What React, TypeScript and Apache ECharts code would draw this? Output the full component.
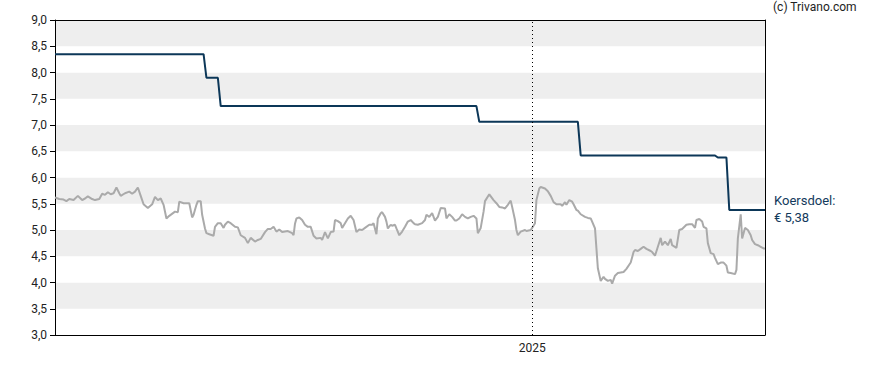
import React, { useEffect, useRef } from "react";
import * as echarts from "echarts";

// Days counted from 2 Feb 2024
const START_DATE = "2024-02-02";
const END_DAY = 497;
const YEAR_MARK = "2025-01-01";
const YEAR_LABEL = "2025";

const yTicks = [3, 3.5, 4, 4.5, 5, 5.5, 6, 6.5, 7, 7.5, 8, 8.5, 9];

const priceDays = [
  0, 3, 6, 8, 10, 13, 16, 19, 21, 23, 26, 28, 31, 33, 35, 37, 39, 41, 43, 45, 46, 49, 52, 54, 56, 58, 60, 62, 65, 68,
  70, 72, 74, 76, 78, 80, 84, 86, 87, 90, 92, 94, 96, 97, 99, 100, 102, 103, 105, 106, 108, 111, 112, 114, 116, 118,
  119, 121, 123, 126, 128, 130, 133, 135, 137, 140, 142, 144, 147, 149, 151, 153, 155, 157, 159, 161, 163, 166, 167,
  168, 169, 171, 173, 175, 177, 179, 181, 183, 186, 187, 189, 191, 193, 195, 196, 198, 200, 201, 203, 205, 207, 209,
  211, 213, 215, 217, 220, 222, 223, 225, 226, 228, 229, 231, 232, 233, 235, 236, 238, 239, 241, 243, 245, 247, 249,
  251, 252, 254, 257, 259, 260, 262, 264, 265, 266, 268, 270, 273, 274, 276, 278, 280, 281, 283, 285, 287, 289, 291,
  293, 295, 296, 298, 300, 301, 304, 307, 309, 311, 313, 315, 317, 319, 320, 322, 323, 324, 326, 329, 330, 333, 334,
  336, 337, 339, 340, 343, 345, 347, 349, 351, 354, 355, 357, 358, 360, 362, 363, 365, 366, 368, 371, 373, 375, 376,
  378, 379, 380, 382, 384, 385, 387, 389, 390, 392, 394, 396, 398, 400, 403, 405, 406, 408, 410, 412, 414, 417, 418,
  420, 422, 424, 425, 427, 429, 431, 432, 435, 437, 439, 442, 444, 446, 448, 449, 451, 453, 454, 456, 457, 459, 461,
  462, 464, 466, 468, 470, 471, 473, 476, 477, 478, 480, 481, 483, 485, 487, 488, 490, 492, 494, 496, 497,
];

const priceValues = [
  5.62, 5.59, 5.58, 5.55, 5.59, 5.57, 5.65, 5.57, 5.6, 5.64, 5.59, 5.57, 5.59, 5.69, 5.67, 5.72, 5.68, 5.7, 5.81, 5.7,
  5.65, 5.7, 5.73, 5.69, 5.73, 5.81, 5.65, 5.49, 5.42, 5.49, 5.63, 5.57, 5.6, 5.48, 5.22, 5.27, 5.35, 5.34, 5.54, 5.51,
  5.51, 5.51, 5.24, 5.29, 5.48, 5.55, 5.55, 5.29, 5.03, 4.94, 4.92, 4.89, 5.06, 5.13, 5.13, 5.04, 5.1, 5.16, 5.13,
  5.06, 5.05, 4.9, 4.85, 4.75, 4.85, 4.78, 4.81, 4.83, 4.96, 5.02, 5.02, 5.06, 4.97, 5.01, 4.96, 4.97, 4.98, 4.94,
  4.9, 5.12, 5.22, 5.24, 5.19, 5.1, 5.06, 5.06, 4.89, 4.84, 4.85, 4.81, 4.96, 4.84, 4.96, 4.97, 5.19, 5.17, 5.13,
  5.04, 5.13, 5.22, 5.27, 5.19, 4.96, 5.01, 5.0, 5.04, 5.1, 5.1, 5.13, 4.92, 5.22, 5.32, 5.34, 5.25, 5.16, 5.03, 5.1,
  5.08, 5.1, 5.03, 4.9, 4.97, 5.06, 5.16, 5.19, 5.13, 5.11, 5.1, 5.13, 5.19, 5.29, 5.25, 5.32, 5.25, 5.18, 5.25, 5.42,
  5.41, 5.22, 5.3, 5.25, 5.18, 5.18, 5.22, 5.3, 5.25, 5.22, 5.25, 5.27, 5.22, 4.94, 5.04, 5.35, 5.55, 5.68, 5.57,
  5.51, 5.44, 5.43, 5.41, 5.48, 5.56, 5.44, 5.19, 5.0, 4.9, 4.97, 5.0, 4.98, 5.0, 5.04, 5.13, 5.57, 5.79, 5.82, 5.79,
  5.74, 5.65, 5.53, 5.49, 5.49, 5.46, 5.53, 5.48, 5.57, 5.54, 5.49, 5.38, 5.37, 5.3, 5.25, 5.23, 5.22, 5.16, 5.03,
  4.65, 4.27, 4.03, 4.11, 4.07, 4.03, 4.05, 3.98, 4.13, 4.18, 4.19, 4.2, 4.26, 4.38, 4.58, 4.62, 4.6, 4.64, 4.68,
  4.64, 4.6, 4.58, 4.51, 4.68, 4.85, 4.71, 4.78, 4.71, 4.83, 4.71, 4.66, 5.0, 5.02, 5.1, 5.11, 5.11, 5.04, 5.19,
  5.21, 5.16, 5.06, 5.03, 4.75, 4.56, 4.54, 4.47, 4.35, 4.38, 4.38, 4.32, 4.19, 4.18, 4.16, 4.24, 4.84, 5.3, 4.84,
  5.04, 5.0, 4.9, 4.81, 4.73, 4.71, 4.68, 4.65, 4.65,
];

// Koersdoel (price target): start day of each level and its value
const targetStartDays = [0, 106, 116, 297, 368, 464, 472];
const targetValues = [8.35, 7.9, 7.36, 7.06, 6.42, 6.38, 5.38];
const TARGET_LABEL = "Koersdoel:";
const TARGET_VALUE_LABEL = "€ 5,38";
const COPYRIGHT = "(c) Trivano.com";

const DAY_MS = 86400000;
const startMs = Date.parse(START_DATE + "T00:00:00Z");
const toMs = (d: number) => startMs + d * DAY_MS;

export default function App() {
  const ref = useRef<HTMLDivElement>(null);

  useEffect(() => {
    if (!ref.current) return;
    const chart = echarts.init(ref.current, undefined, { renderer: "svg" });

    const priceData = priceDays.map((d, i) => [toMs(d), priceValues[i]]);
    const targetData: number[][] = [];
    targetStartDays.forEach((s, i) => {
      const end = i < targetStartDays.length - 1 ? targetStartDays[i + 1] - 2 : END_DAY;
      targetData.push([toMs(s), targetValues[i]]);
      targetData.push([toMs(end), targetValues[i]]);
    });

    const fmt = (v: number) => v.toFixed(1).replace(".", ",");
    const font = "Roboto, 'Liberation Sans', sans-serif";

    chart.setOption({
      animation: false,
      grid: { left: 55, right: 123, top: 20, bottom: 35, containLabel: false },
      xAxis: [
        {
          type: "time",
          min: toMs(0),
          max: toMs(END_DAY),
          axisLine: { show: true, lineStyle: { color: "#000", width: 1 } },
          axisTick: { show: false },
          axisLabel: { show: false },
          splitLine: { show: false },
        },
        {
          type: "time",
          position: "top",
          min: toMs(0),
          max: toMs(END_DAY),
          axisLine: { show: true, onZero: false, lineStyle: { color: "#000", width: 1 } },
          axisTick: { show: false },
          axisLabel: { show: false },
          splitLine: { show: false },
        },
      ],
      yAxis: [
        {
          type: "value",
          min: yTicks[0],
          max: yTicks[yTicks.length - 1],
          interval: 0.5,
          axisLine: { show: true, lineStyle: { color: "#000", width: 1 } },
          axisTick: { show: true, length: 5, lineStyle: { color: "#000" } },
          axisLabel: { formatter: fmt, color: "#222", fontSize: 12, fontFamily: font, margin: 8 },
          splitLine: { show: false },
          splitArea: { show: true, areaStyle: { color: ["#ffffff", "#eeeeee"] } },
        },
        {
          type: "value",
          position: "right",
          min: yTicks[0],
          max: yTicks[yTicks.length - 1],
          interval: 0.5,
          axisLine: { show: true, onZero: false, lineStyle: { color: "#000", width: 1 } },
          axisTick: { show: false },
          axisLabel: { show: false },
          splitLine: { show: false },
        },
      ],
      series: [
        {
          type: "line",
          name: "Koers",
          data: priceData,
          showSymbol: false,
          symbol: "none",
          lineStyle: { color: "#aaaaaa", width: 2 },
          z: 2,
          markLine: {
            silent: true,
            symbol: "none",
            lineStyle: { type: [1, 3], color: "#000", width: 1 },
            label: {
              show: true,
              position: "start",
              formatter: YEAR_LABEL,
              color: "#222",
              fontSize: 12,
              fontFamily: font,
              distance: 7,
            },
            data: [{ xAxis: Date.parse(YEAR_MARK + "T00:00:00Z") }],
          },
        },
        {
          type: "line",
          name: TARGET_LABEL,
          data: targetData,
          showSymbol: false,
          symbol: "none",
          lineStyle: { color: "#0c3758", width: 2 },
          z: 3,
        },
      ],
      graphic: [
        {
          type: "text",
          left: 773,
          top: 1,
          style: { text: COPYRIGHT, fill: "#222", fontSize: 12, fontFamily: font },
        },
        {
          type: "text",
          left: 774,
          top: 194,
          style: { text: TARGET_LABEL, fill: "#133a5c", fontSize: 13, fontFamily: font },
        },
        {
          type: "text",
          left: 774,
          top: 211,
          style: { text: TARGET_VALUE_LABEL, fill: "#133a5c", fontSize: 13, fontFamily: font },
        },
      ],
    });

    return () => chart.dispose();
  }, []);

  return (
    <div
      ref={ref}
      style={{ position: "fixed", left: 0, top: 0, width: 888, height: 370, background: "#fff" }}
    />
  );
}
